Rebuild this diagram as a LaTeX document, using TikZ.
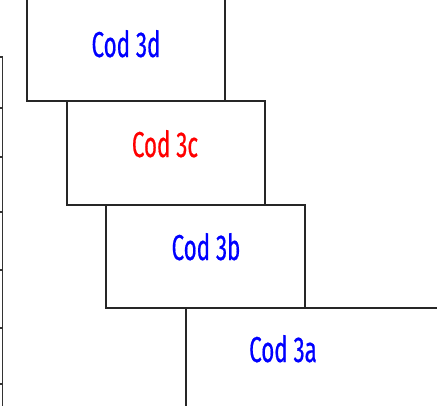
\documentclass[tikz,border=0pt]{standalone}
\usepackage{fontspec}
\setmainfont[FakeStretch=0.62,FakeBold=0.5]{Fira Sans}
\begin{document}
\begin{tikzpicture}[x=1pt,y=-1pt,
  box/.style={draw=black!85, line width=1.3pt, rectangle, inner sep=0pt},
  lbl/.style={font=\fontsize{36}{40}\selectfont, anchor=base, inner sep=0pt},
  axisline/.style={draw=black!80, line width=1.3pt}]
\useasboundingbox (0,0) rectangle (437,405);
\clip (0,0) rectangle (437,405);
% axis
\coordinate (ax0) at (2.5,57);
\coordinate (ax1) at (2.5,410);
\draw[axisline] (ax0) -- (ax1);
\foreach \t/\n in {57/t1,108/t2,157/t3,212/t4,270/t5,328/t6,384/t7}{
  \coordinate (\n a) at (-2,\t);
  \coordinate (\n b) at (2.5,\t);
  \draw[axisline] (\n a) -- (\n b);
}
% boxes
\node[box, minimum width=198pt, minimum height=104pt] (bd) at (126,49) {};
\node[box, minimum width=198pt, minimum height=104pt] (bc) at (166,153) {};
\node[box, minimum width=199pt, minimum height=103pt] (bb) at (205.5,256.5) {};
\node[box, minimum width=300pt, minimum height=130pt] (ba) at (336,373) {};
% labels
\node[lbl, text=blue] (ld) at (126,57) {Cod 3d};
\node[lbl, text=red] (lc) at (165,157) {Cod 3c};
\node[lbl, text=blue] (lb) at (206,260) {Cod 3b};
\node[lbl, text=blue] (la) at (283,362) {Cod 3a};
\end{tikzpicture}
\end{document}
